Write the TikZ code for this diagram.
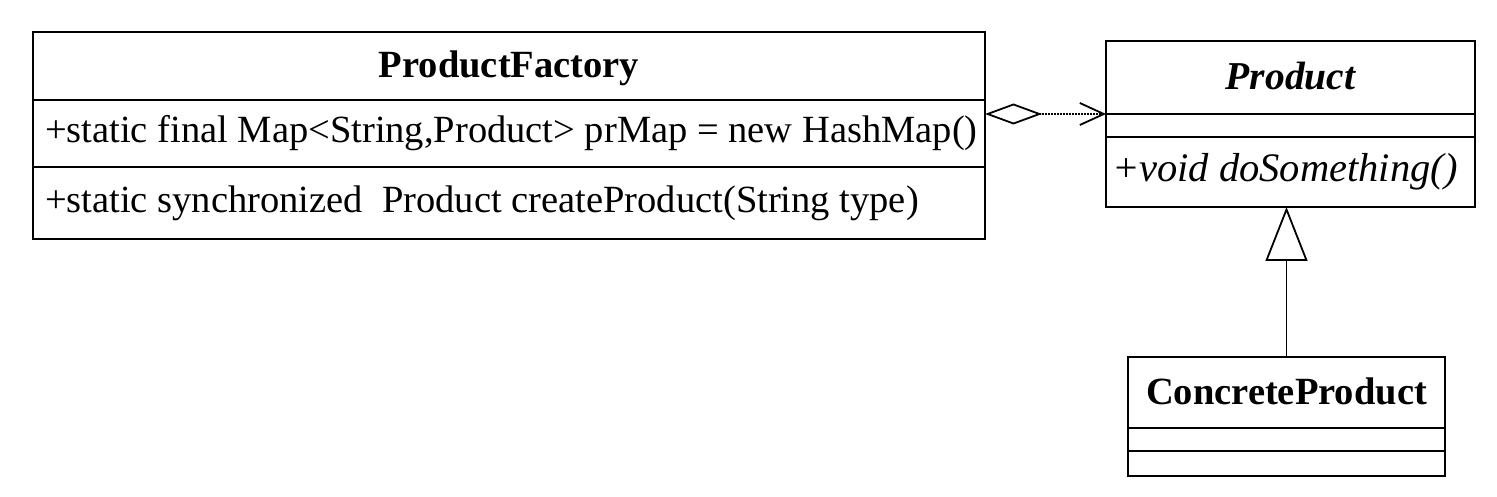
\documentclass[tikz,border=0pt]{standalone}
\usepackage{fontspec}
\setmainfont{Liberation Serif}
\usetikzlibrary{arrows.meta}

\begin{document}
\begin{tikzpicture}[x=1pt,y=-1pt,line width=2.2pt,
		every node/.style={font=\fontsize{38.5}{44}\selectfont},
		umlbox/.style={draw,rectangle,inner sep=0pt,outer sep=0pt,anchor=north west},
		namebox/.style={umlbox,text height=27pt,text depth=3pt,font=\fontsize{38.5}{44}\selectfont\bfseries},
		memberbox/.style={umlbox,inner xsep=12pt}]
		\useasboundingbox (0,0) rectangle (1497,497);
		% Class ProductFactory
		\node[namebox,minimum width=952pt,minimum height=68pt] (pfName) at (33,32) {ProductFactory};
		\node[memberbox,minimum height=67pt] (pfAttr) at (pfName.south west) {\makebox[928pt][l]{+static final Map<String,Product> prMap = new HashMap()}};
		\node[memberbox,minimum height=72pt] (pfOp) at (pfAttr.south west) {\makebox[928pt][l]{+static synchronized\ \ Product createProduct(String type)}};
		% Class Product (abstract)
		\node[namebox,font=\fontsize{39.5}{44}\selectfont\bfseries\itshape,minimum width=369pt,minimum height=73pt] (prName) at (1106,41) {Product};
		\node[umlbox,minimum width=369pt,minimum height=23pt] (prAttr) at (prName.south west) {};
		\node[memberbox,inner xsep=6pt,minimum height=70pt,font=\fontsize{40.5}{44}\selectfont\itshape] (prOp) at (prAttr.south west) {\makebox[357pt][l]{+void doSomething()}};
		% Class ConcreteProduct
		\node[namebox,minimum width=317pt,minimum height=71pt] (cpName) at (1128,357) {ConcreteProduct};
		\node[umlbox,minimum width=317pt,minimum height=23pt] (cpAttr) at (cpName.south west) {};
		\node[umlbox,minimum width=317pt,minimum height=25pt] (cpOp) at (cpAttr.south west) {};
		% Aggregation
		\draw[line width=2pt,densely dotted,{Diamond[open,length=57pt,width=21pt,line width=1.8pt]}-{Straight Barb[length=24pt,width=22pt,line width=1.8pt]}] (pfAttr.east |- prName.south west) -- (prName.south west);
		% Inheritance
		\draw[line width=1.8pt,-{Triangle[open,length=54pt,width=42pt,line width=1.8pt]}] (cpName.north) -- (cpName.north |- prOp.south);
\end{tikzpicture}
\end{document}
